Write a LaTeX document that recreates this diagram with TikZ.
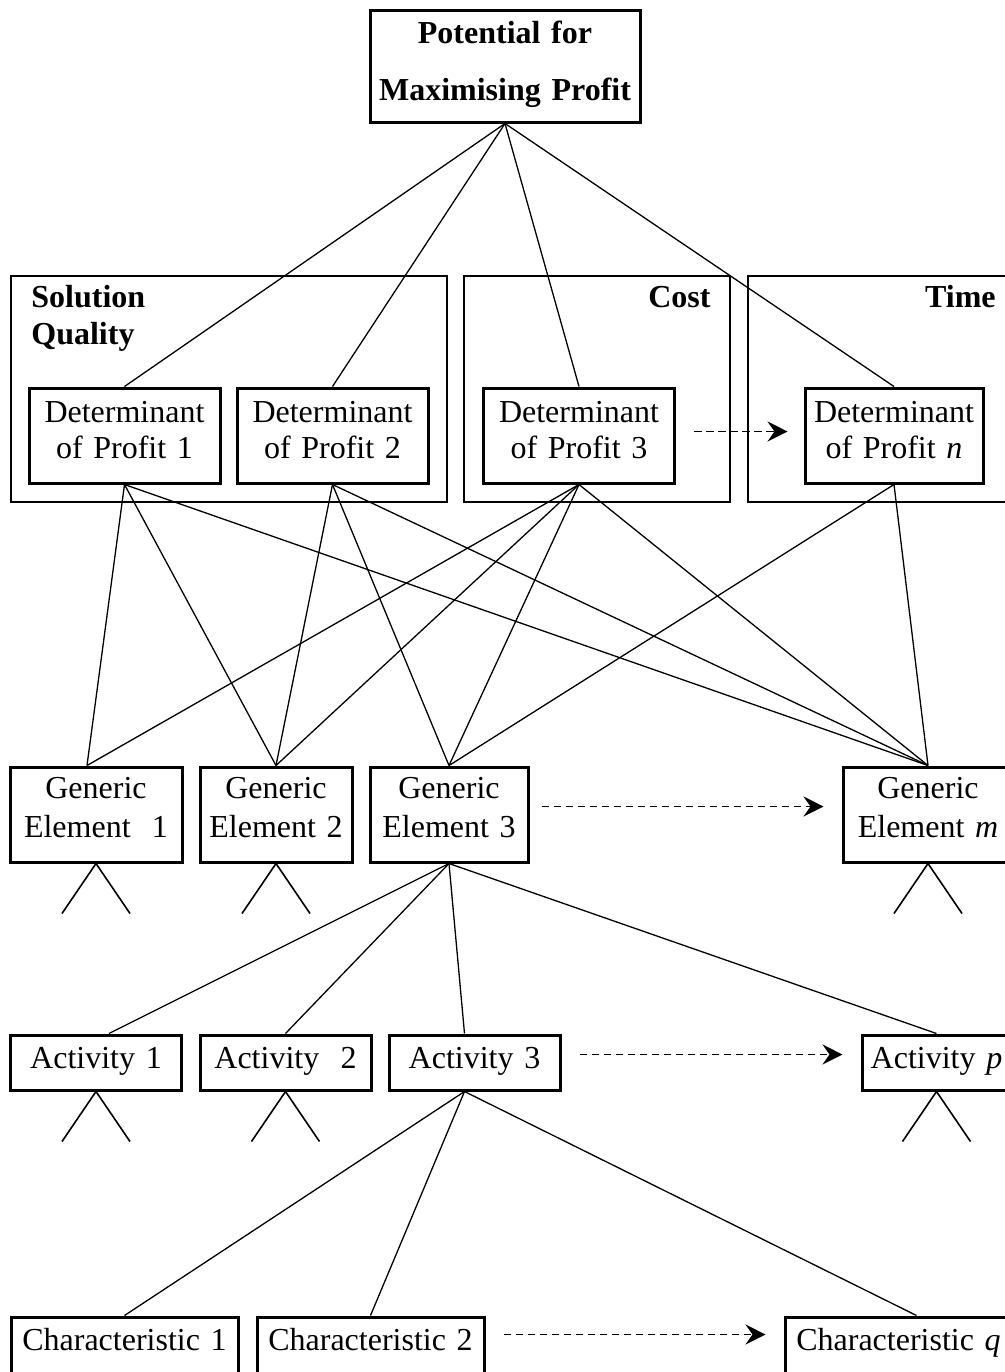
\documentclass[tikz,border=0pt]{standalone}
\usepackage{fontspec}
\setmainfont{Liberation Serif}
\usetikzlibrary{arrows.meta}

\begin{document}
\begin{tikzpicture}[x=0.5pt, y=-0.5pt]
		% Define the styles for the boxes and connectors
		\tikzstyle{box}=[rectangle, draw=black, line width=1.5pt, inner sep=0pt, align=center, font=\fontsize{16}{18}\selectfont]
		\tikzstyle{goal}=[box, text width=135pt, text height=16.5pt, text depth=39.5pt, font=\bfseries\fontsize{16}{28.5}\selectfont]
		\tikzstyle{group}=[rectangle, draw=black, line width=1pt, inner sep=0pt, minimum height=113pt]
		\tikzstyle{grouplabel}=[inner sep=0pt, font=\bfseries\fontsize{16}{18.5}\selectfont]
		\tikzstyle{determinant}=[box, text width=95.5pt, text height=17pt, text depth=30.5pt]
		\tikzstyle{element}=[box, text height=15.5pt, text depth=32pt, font=\fontsize{16}{19.5}\selectfont]
		\tikzstyle{activity}=[box, text width=85.5pt, text height=16.5pt, text depth=11pt]
		\tikzstyle{feature}=[box, text width=113.5pt, text height=16.5pt, text depth=31pt]
		\tikzstyle{link}=[line width=0.65pt]
		\tikzstyle{fork}=[line width=0.8pt]
		\tikzstyle{etc}=[line width=0.8pt, dash pattern=on 3.8pt off 2.2pt, -{Stealth[length=10pt, width=10pt, inset=3.5pt]}, shorten <=9pt, shorten >=9pt]

		\useasboundingbox (0,0) rectangle (1005,1372);

		% Define nodes
		\node (profit) [goal] at (505,66) {Potential for\\Maximising Profit};

		\node (quality) [group, minimum width=218pt] at (229,389) {};
		\node (cost) [group, minimum width=133pt] at (597,389) {};
		\node (time) [group, minimum width=133.5pt] at (881.5,389) {};
		\node (qualitylabel) [grouplabel, text width=80pt, align=left, anchor=base west] at ([xshift=10.5pt, yshift=-16pt]quality.north west) {Solution\\Quality};
		\node (costlabel) [grouplabel, anchor=base east] at ([xshift=-10pt, yshift=-16pt]cost.north east) {Cost};
		\node (timelabel) [grouplabel, anchor=base east] at ([xshift=-10pt, yshift=-16pt]time.north east) {Time};

		\node (D1) [determinant] at (124.5,435.5) {Determinant\\of Profit 1};
		\node (D2) [determinant] at (332.5,435.5) {Determinant\\of Profit 2};
		\node (D3) [determinant] at (579,435.5) {Determinant\\of Profit 3};
		\node (Dn) [determinant, text width=89pt] at (894,435.5) {Determinant\\of Profit \textit{n}};

		\node (E1) [element, text width=86pt] at (96,814.5) {Generic\\Element\ \ 1};
		\node (E2) [element, text width=76pt] at (276,814.5) {Generic\\Element 2};
		\node (E3) [element, text width=79pt] at (449,814.5) {Generic\\Element 3};
		\node (Em) [element, text width=85pt] at (928,814.5) {Generic\\Element \textit{m}};

		\node (A1) [activity] at (96,1062.5) {Activity 1};
		\node (A2) [activity] at (285.5,1062.5) {Activity\ \ 2};
		\node (A3) [activity] at (474.5,1062.5) {Activity 3};
		\node (Ap) [activity, text width=74.5pt] at (936.5,1062.5) {Activity \textit{p}};

		\node (C1) [feature] at (124.5,1364.5) {Characteristic 1};
		\node (C2) [feature] at (370.5,1364.5) {Characteristic 2};
		\node (Cq) [feature] at (898.5,1364.5) {Characteristic \textit{q}};

		% Define edges
		\draw[link] (profit.south) -- (D1.north);
		\draw[link] (profit.south) -- (D2.north);
		\draw[link] (profit.south) -- (D3.north);
		\draw[link] (profit.south) -- (Dn.north);

		\draw[link] (D1.south) -- ([xshift=-4.5pt]E1.north);
		\draw[link] (D1.south) -- (E2.north);
		\draw[link] (D1.south) -- (Em.north);
		\draw[link] (D2.south) -- (E2.north);
		\draw[link] (D2.south) -- (E3.north);
		\draw[link] (D2.south) -- (Em.north);
		\draw[link] (D3.south) -- ([xshift=-4.5pt]E1.north);
		\draw[link] (D3.south) -- (E2.north);
		\draw[link] (D3.south) -- (E3.north);
		\draw[link] (D3.south) -- (Em.north);
		\draw[link] (Dn.south) -- (E3.north);
		\draw[link] (Dn.south) -- (Em.north);

		\draw[link] (E3.south) -- ([xshift=6.5pt]A1.north);
		\draw[link] (E3.south) -- (A2.north);
		\draw[link] (E3.south) -- ([xshift=-5pt]A3.north);
		\draw[link] (E3.south) -- (Ap.north);

		\draw[link] ([xshift=-5pt]A3.south) -- (C1.north);
		\draw[link] ([xshift=-5pt]A3.south) -- (C2.north);
		\draw[link] ([xshift=-5pt]A3.south) -- ([xshift=9pt]Cq.north);

		\draw[fork] ([shift={(-17pt,-25pt)}]E1.south) -- (E1.south) -- ++(17pt,-25pt);
		\draw[fork] ([shift={(-17pt,-25pt)}]E2.south) -- (E2.south) -- ++(17pt,-25pt);
		\draw[fork] ([shift={(-17pt,-25pt)}]Em.south) -- (Em.south) -- ++(17pt,-25pt);
		\draw[fork] ([shift={(-17pt,-25pt)}]A1.south) -- (A1.south) -- ++(17pt,-25pt);
		\draw[fork] ([shift={(-17pt,-25pt)}]A2.south) -- (A2.south) -- ++(17pt,-25pt);
		\draw[fork] ([shift={(-17pt,-25pt)}]Ap.south) -- (Ap.south) -- ++(17pt,-25pt);

		\draw[etc, shorten >=8pt] ([yshift=2pt]D3.east) -- ([yshift=2pt]Dn.west);
		\draw[etc, shorten <=6pt] ([yshift=4pt]E3.east) -- ([yshift=4pt]Em.west);
		\draw[etc] ([yshift=4pt]A3.east) -- ([yshift=4pt]Ap.west);
		\draw[etc] ([yshift=15pt]C2.east) -- ([yshift=15pt]Cq.west);
	\end{tikzpicture}
\end{document}
